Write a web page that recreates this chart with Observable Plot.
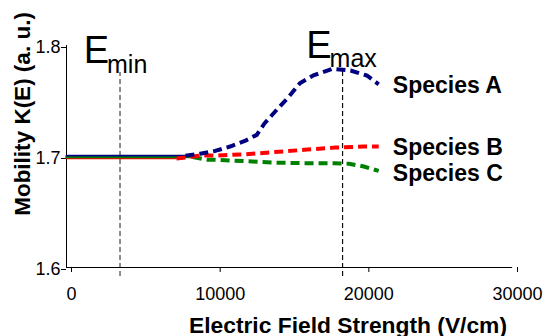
<!DOCTYPE html>
<html>
<head>
<meta charset="utf-8">
<script src="https://cdn.jsdelivr.net/npm/d3@7"></script>
<script src="https://cdn.jsdelivr.net/npm/@observablehq/plot@0.6"></script>
<style>
  html, body { margin: 0; padding: 0; background: #fff; }
  #chart { width: 546px; height: 336px; }
</style>
</head>
<body>
<div id="chart"></div>
<script>
// ---- data ----
const xTicks = [0, 10000, 20000, 30000];
const yTicks = [1.6, 1.7, 1.8];

// measured (solid) parts
const aSolidX = [0, 8000];
const aSolidY = [1.7008, 1.7008];
const bSolidX = [0, 7400];
const bSolidY = [1.6982, 1.6982];
const cSolidX = [0, 8500];
const cSolidY = [1.6995, 1.6995];

// extrapolated (dashed) parts
const aDashX = [8000, 9000, 10000, 11000, 12000, 12800, 13300, 14200, 14900, 15700, 16600, 17900, 19100, 20200, 21000];
const aDashY = [1.7008, 1.7025, 1.705, 1.709, 1.714, 1.7195, 1.7295, 1.743, 1.753, 1.766, 1.773, 1.779, 1.7775, 1.773, 1.765];
const bDashX = [7400, 9000, 10000, 12000, 14000, 16000, 18000, 20000, 21000];
const bDashY = [1.6982, 1.7008, 1.7008, 1.702, 1.704, 1.706, 1.708, 1.709, 1.709];
const cDashX = [8500, 9500, 10000, 12000, 14000, 16000, 18000, 19000, 20000, 21000];
const cDashY = [1.6995, 1.697, 1.697, 1.6958, 1.6945, 1.694, 1.694, 1.6935, 1.691, 1.687];

const speciesNames = ["Species A", "Species B", "Species C"];
const speciesColors = ["#000080", "#ff0000", "#008000"];
const speciesLabelY = [1.7568, 1.7012, 1.6775];
const speciesLabelX = 21950;

// E_min / E_max markers
const markerNames = ["min", "max"];
const markerX = [3600, 18570];
const markerBottom = [1.592, 1.592];
const markerTop = [1.7757, 1.7793];
const markerEY = [1.7838, 1.7883];
const markerSubY = [1.7748, 1.7802];

const zip = (xs, ys) => xs.map((x, i) => ({x, y: ys[i]}));
const font = "'Liberation Sans', Arial, Helvetica, sans-serif";

const solid = [
  {d: zip(bSolidX, bSolidY), c: speciesColors[1], w: 1.6},
  {d: zip(cSolidX, cSolidY), c: speciesColors[2], w: 2.6},
  {d: zip(aSolidX, aSolidY), c: speciesColors[0], w: 1.8}
];
const dashed = [
  {d: zip(cDashX, cDashY), c: speciesColors[2]},
  {d: zip(bDashX, bDashY), c: speciesColors[1]},
  {d: zip(aDashX, aDashY), c: speciesColors[0]}
];
const markers = markerNames.map((n, i) => ({
  name: n, x: markerX[i], y1: markerBottom[i], y2: markerTop[i], ey: markerEY[i], sy: markerSubY[i]
}));
const labels = speciesNames.map((n, i) => ({name: n, x: speciesLabelX, y: speciesLabelY[i]}));

const plot = Plot.plot({
  width: 546,
  height: 336,
  marginLeft: 66,
  marginRight: 34,
  marginTop: 45,
  marginBottom: 69,
  style: {fontFamily: font, background: "#fff", color: "#000", overflow: "visible"},
  x: {domain: [0, 30000]},
  y: {domain: [1.6, 1.8]},
  marks: [
    // vertical marker lines
    Plot.ruleX(markers, {x: "x", y1: "y1", y2: "y2", stroke: (d, i) => i === 0 ? "#444" : "#111", strokeWidth: 1.2, strokeDasharray: "5,3", clip: false}),
    // axes lines
    Plot.ruleY([1.6], {stroke: "#000", strokeWidth: 1}),
    Plot.ruleX([0], {y1: 1.6, y2: 1.8, stroke: "#000", strokeWidth: 1}),
    Plot.axisX({ticks: xTicks, tickFormat: d3.format("d"), tickSize: 5, tickPadding: 15, fontSize: 18, dx: 5, label: null, stroke: "#000", fill: "#000"}),
    Plot.axisY({ticks: yTicks, tickFormat: d3.format(".1f"), tickSize: 5, tickPadding: 1, fontSize: 18, dy: 2, label: null, stroke: "#000", fill: "#000"}),
    // solid lines
    ...solid.map(s => Plot.line(s.d, {x: "x", y: "y", stroke: s.c, strokeWidth: s.w})),
    // dashed lines
    ...dashed.map(s => Plot.line(s.d, {x: "x", y: "y", stroke: s.c, strokeWidth: 4, strokeDasharray: "9,5", strokeLinecap: "butt"})),
    // E labels
    Plot.text(markers, {x: "x", y: "ey", text: () => "E", textAnchor: "end", lineAnchor: "bottom", dx: -11, fontSize: 38, fill: "#000"}),
    Plot.text(markers, {x: "x", y: "sy", text: "name", textAnchor: "start", lineAnchor: "bottom", dx: -13, fontSize: 25, fill: "#000"}),
    // species labels
    Plot.text(labels, {x: "x", y: "y", text: "name", textAnchor: "start", lineAnchor: "bottom", fontSize: 23, fontWeight: "bold", fill: "#000"}),
    // axis titles
    Plot.text([0], {frameAnchor: "bottom", text: () => "Electric Field Strength (V/cm)", dx: 58.5, dy: 65, lineAnchor: "bottom", fontSize: 22.8, fontWeight: "bold", fill: "#000"}),
    Plot.text([0], {frameAnchor: "left", text: () => "Mobility K(E) (a. u.)", rotate: -90, dx: -37, dy: -42.5, lineAnchor: "bottom", textAnchor: "middle", fontSize: 22.5, fontWeight: "bold", fill: "#000"})
  ]
});
document.getElementById("chart").appendChild(plot);
</script>
</body>
</html>
